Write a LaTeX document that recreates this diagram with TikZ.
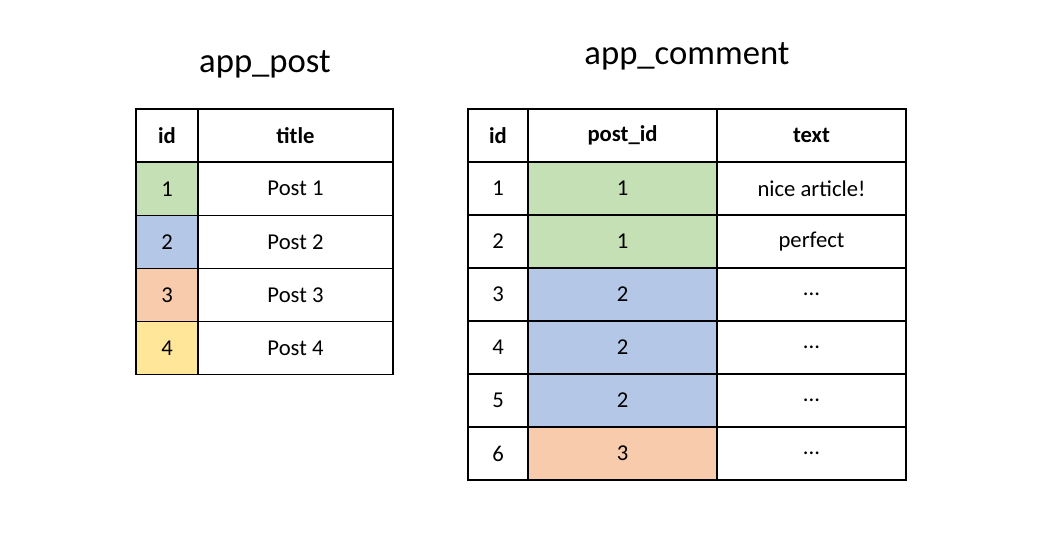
\documentclass[tikz,border=0pt]{standalone}
\usepackage{fontspec}
\setmainfont{Carlito}
\definecolor{cg}{HTML}{C5E0B4}
\definecolor{cb}{HTML}{B4C7E7}
\definecolor{co}{HTML}{F8CBAD}
\definecolor{cy}{HTML}{FFE699}
\def\myDots{...}
\begin{document}
\begin{tikzpicture}[x=0.75pt,y=-0.75pt,
  cell/.style={draw=black,line width=0.9pt,inner sep=0pt,minimum height=53*0.75pt,font=\fontsize{17}{20}\selectfont},
  hd/.style={cell,font=\fontsize{17}{20}\selectfont\bfseries},
  ttl/.style={font=\fontsize{26}{30}\selectfont}]
\useasboundingbox (0,0) rectangle (1049,537);
\node[ttl] (t1) at (265,64) {app\_post};
\node[ttl] (t2) at (687,56) {app\_comment};
% left table
\def\myWa{62*0.75pt}\def\myWb{195*0.75pt}
\node[hd,minimum width=\myWa] (p0a) at (167,135.5) {id};
\node[hd,minimum width=\myWb] (p0b) at (295.5,135.5) {title};
\foreach \i/\c in {1/cg,2/cb,3/co,4/cy}{
  \node[cell,minimum width=\myWa,fill=\c] (p\i a) at (167,135.5+53.2*\i) {\i};
  \node[cell,minimum width=\myWb] (p\i b) at (295.5,135.5+53.2*\i) {Post \i};
}
% right table
\def\myWc{60*0.75pt}\def\myWd{189*0.75pt}\def\myWe{189*0.75pt}
\node[hd,minimum width=\myWc] (c0a) at (498,135.5) {id};
\node[hd,minimum width=\myWd] (c0b) at (622.5,135.5) {post\_id};
\node[hd,minimum width=\myWe] (c0c) at (811.5,135.5) {text};
\foreach \i/\p/\c/\t in {1/1/cg/nice article!,2/1/cg/perfect,3/2/cb/\myDots,4/2/cb/\myDots,5/2/cb/\myDots,6/3/co/\myDots}{
  \node[cell,minimum width=\myWc] (c\i a) at (498,135.5+53*\i) {\i};
  \node[cell,minimum width=\myWd,fill=\c] (c\i b) at (622.5,135.5+53*\i) {\p};
  \node[cell,minimum width=\myWe] (c\i c) at (811.5,135.5+53*\i) {\t};
}
\end{tikzpicture}
\end{document}
